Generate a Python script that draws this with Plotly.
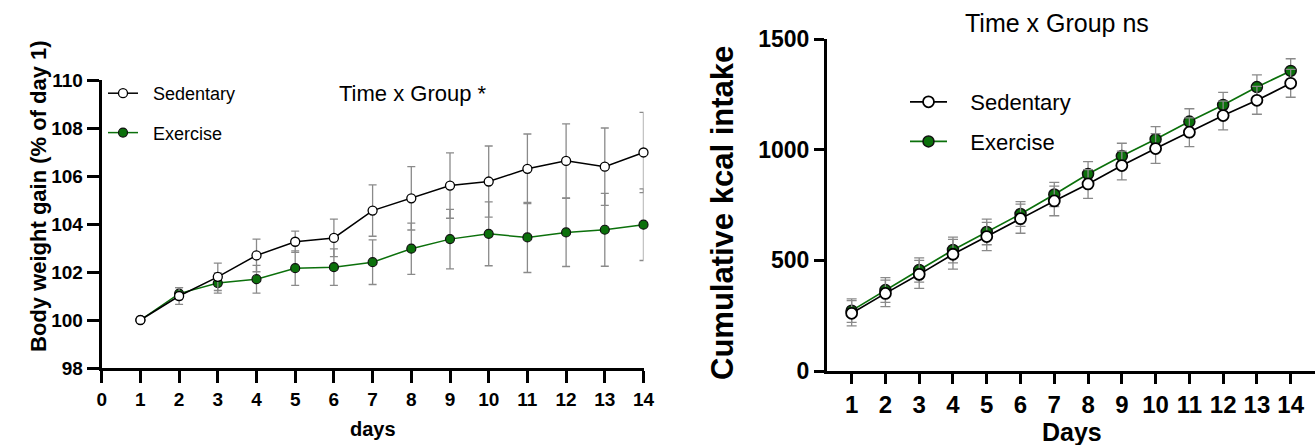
import plotly.graph_objects as go

# ---------------- data ----------------
days_left = list(range(1, 15))
bw_sed = [100.0, 101.0, 101.8, 102.69, 103.26, 103.42, 104.56, 105.07, 105.6, 105.77, 106.3, 106.63, 106.39, 106.98]
bw_sed_err = [0.0, 0.35, 0.57, 0.68, 0.44, 0.78, 1.07, 1.32, 1.36, 1.48, 1.45, 1.54, 1.61, 1.67]
bw_ex = [100.0, 101.1, 101.54, 101.7, 102.16, 102.2, 102.41, 102.97, 103.37, 103.59, 103.44, 103.65, 103.76, 103.97]
bw_ex_err = [0.0, 0.25, 0.42, 0.58, 0.72, 0.76, 0.93, 1.07, 1.24, 1.33, 1.46, 1.42, 1.52, 1.49]

days_right = list(range(1, 15))
kcal_sed = [261, 351, 437, 528, 608, 689, 769, 846, 929, 1006, 1080, 1155, 1224, 1301]
kcal_sed_err = [57, 60, 63, 67, 64, 66, 67, 65, 65, 67, 65, 65, 63, 63]
kcal_ex = [273, 366, 457, 547, 629, 710, 798, 891, 972, 1048, 1128, 1203, 1284, 1357]
kcal_ex_err = [53, 56, 55, 58, 58, 56, 55, 56, 58, 57, 58, 57, 55, 55]

left_xticks = list(range(0, 15))
left_yticks = [98, 100, 102, 104, 106, 108, 110]
right_xticks = list(range(1, 15))
right_yticks = [0, 500, 1000, 1500]

GREEN = "#0b700b"
ERR = "#8a8a8a"
FONT = "Liberation Sans, Arial, sans-serif"
NB = "\u00a0"

W, H = 1315, 445

fig = go.Figure()

# ---- left panel ----
fig.add_trace(go.Scatter(
    x=days_left, y=bw_ex, name=NB * 2 + "Exercise", mode="lines+markers",
    line=dict(color=GREEN, width=1.5),
    marker=dict(size=9, color=GREEN, line=dict(color="#111", width=1.2)),
    error_y=dict(type="data", array=bw_ex_err, color=ERR, thickness=1.3, width=4),
    xaxis="x", yaxis="y", legend="legend", legendgroup="le", legendrank=2,
    cliponaxis=False))
fig.add_trace(go.Scatter(
    x=days_left, y=bw_sed, name=NB * 2 + "Sedentary", mode="lines+markers",
    line=dict(color="black", width=1.5),
    marker=dict(size=9, color="white", line=dict(color="black", width=1.3)),
    error_y=dict(type="data", array=bw_sed_err, color=ERR, thickness=1.3, width=4),
    xaxis="x", yaxis="y", legend="legend", legendgroup="ls", legendrank=1,
    cliponaxis=False))

# ---- right panel ----
fig.add_trace(go.Scatter(
    x=days_right, y=kcal_ex, name=NB * 3 + "Exercise", mode="lines+markers",
    line=dict(color=GREEN, width=1.7),
    marker=dict(size=11, color=GREEN, line=dict(color="#111", width=1.5)),
    error_y=dict(type="data", array=kcal_ex_err, color=ERR, thickness=1.3, width=5),
    xaxis="x2", yaxis="y2", legend="legend2", legendgroup="re", legendrank=2,
    cliponaxis=False))
fig.add_trace(go.Scatter(
    x=days_right, y=kcal_sed, name=NB * 3 + "Sedentary", mode="lines+markers",
    line=dict(color="black", width=1.7),
    marker=dict(size=11, color="white", line=dict(color="black", width=1.8)),
    error_y=dict(type="data", array=kcal_sed_err, color=ERR, thickness=1.3, width=5),
    xaxis="x2", yaxis="y2", legend="legend2", legendgroup="rs", legendrank=1,
    cliponaxis=False))


def py(px):
    return 1 - px / H


def pxx(px):
    return px / W


axis_common = dict(showline=True, linecolor="black", linewidth=3, ticks="outside",
                   tickcolor="black", tickwidth=3, showgrid=False, zeroline=False,
                   automargin=False)

fig.update_layout(
    width=W, height=H, margin=dict(l=0, r=0, t=0, b=0, autoexpand=False),
    paper_bgcolor="white", plot_bgcolor="white",
    font=dict(family=FONT, color="black"),
    xaxis=dict(domain=[pxx(101.7), pxx(643.5)], range=[0, 14], tickvals=left_xticks,
               ticklen=12, anchor="y",
               tickfont=dict(size=19, weight="bold", family=FONT), **axis_common),
    yaxis=dict(domain=[py(368), py(80)], range=[98, 110], tickvals=left_yticks,
               ticklen=12, anchor="x",
               tickfont=dict(size=19, weight="bold", family=FONT), **axis_common),
    xaxis2=dict(domain=[pxx(827), 1.0], range=[0.27, 14.72], tickvals=right_xticks,
                ticklen=10, anchor="y2",
                tickfont=dict(size=24, weight="bold", family=FONT), **axis_common),
    yaxis2=dict(domain=[py(371), py(39.3)], range=[0, 1500], tickvals=right_yticks,
                ticklen=10, anchor="x2",
                tickfont=dict(size=23, weight="bold", family=FONT), **axis_common),
    legend=dict(x=pxx(103), y=py(75), xanchor="left", yanchor="top",
                font=dict(size=18, family=FONT), itemwidth=30, tracegroupgap=13,
                bgcolor="rgba(0,0,0,0)"),
    legend2=dict(x=pxx(905), y=py(81), xanchor="left", yanchor="top",
                 font=dict(size=22, family=FONT), itemwidth=37, tracegroupgap=8,
                 bgcolor="rgba(0,0,0,0)"),
    showlegend=True,
)

annotations = [
    dict(text="Time x Group *", x=pxx(413), y=py(93)),
    dict(text="Time x Group ns", x=pxx(1057), y=py(23), size=25),
    dict(text="days", x=pxx(373), y=py(429), size=20, weight="bold"),
    dict(text="Body weight gain (% of day 1)", x=pxx(38), y=py(196), textangle=-90,
         weight="bold"),
    dict(text="Days", x=pxx(1072), y=py(416), yanchor="top", size=25, weight="bold"),
    dict(text="Cumulative kcal intake", x=pxx(722), y=py(213), textangle=-90,
         size=31, weight="bold"),
]
ann_objs = []
for a in annotations:
    ann_objs.append(dict(
        text=a["text"], x=a["x"], y=a["y"], xref="paper", yref="paper",
        xanchor="center", yanchor=a.get("yanchor", "middle"), showarrow=False,
        textangle=a.get("textangle", 0),
        font=dict(size=a.get("size", 22), weight=a.get("weight", "normal"), family=FONT)))
fig.update_layout(annotations=ann_objs)

# remove the default 8px page margin so the figure fills the window exactly
fig.write_html("out.html",
               config={"displayModeBar": False},
               post_script="document.body.style.margin='0';document.body.style.overflow='hidden';")
